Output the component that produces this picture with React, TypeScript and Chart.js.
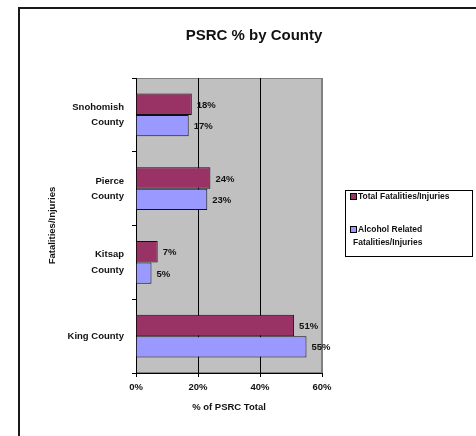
import React, { useEffect, useRef } from "react";
import { Chart, registerables } from "chart.js";

Chart.register(...registerables);

const chartTitle = "PSRC % by County";
const categories: (string | string[])[] = [["Snohomish", "County"], ["Pierce", "County"], ["Kitsap", "County"], "King County"];
const seriesNames = ["Total Fatalities/Injuries", "Alcohol Related Fatalities/Injuries"];
const totalValues = [18, 24, 7, 51];
const alcoholValues = [17, 23, 5, 55];
const xTickValues = [0, 20, 40, 60];
const xAxisTitle = "% of PSRC Total";
const yAxisTitle = "Fatalities/Injuries";

const FONT = '"Liberation Sans", Arial, sans-serif';
const TOTAL_COLOR = "#993366";
const ALCOHOL_COLOR = "#9999FF";

const backgroundPlugin = {
  id: "bgFrame",
  beforeDraw(chart: any) {
    const { ctx, chartArea } = chart;
    ctx.save();
    ctx.fillStyle = "#ffffff";
    ctx.fillRect(0, 0, chart.width, chart.height);
    // outer frame (left and top edges visible)
    ctx.strokeStyle = "#1a1a1a";
    ctx.lineWidth = 2;
    ctx.beginPath();
    ctx.moveTo(19, chart.height + 2);
    ctx.lineTo(19, 8);
    ctx.lineTo(chart.width + 2, 8);
    ctx.stroke();
    // title
    ctx.font = `bold 15px ${FONT}`;
    ctx.fillStyle = "#111";
    ctx.textAlign = "center";
    ctx.textBaseline = "middle";
    ctx.fillText(chartTitle, 254, 36);
    // plot area
    ctx.fillStyle = "#C0C0C0";
    ctx.fillRect(chartArea.left, chartArea.top, chartArea.right - chartArea.left, chartArea.bottom - chartArea.top);
    ctx.strokeStyle = "#808080";
    ctx.lineWidth = 1;
    ctx.strokeRect(chartArea.left + 0.5, chartArea.top + 0.5, chartArea.right - chartArea.left - 1, chartArea.bottom - chartArea.top - 1);
    ctx.restore();
  },
};

const labelsPlugin = {
  id: "valueLabels",
  afterDatasetsDraw(chart: any) {
    const { ctx } = chart;
    ctx.save();
    ctx.font = `bold 9.5px ${FONT}`;
    ctx.fillStyle = "#111";
    ctx.textAlign = "left";
    ctx.textBaseline = "middle";
    chart.data.datasets.forEach((ds: any, di: number) => {
      const meta = chart.getDatasetMeta(di);
      meta.data.forEach((bar: any, i: number) => {
        ctx.fillText(ds.data[i] + "%", bar.x + 5, bar.y + 1);
      });
    });
    ctx.restore();
  },
};

const legendPlugin = {
  id: "customLegend",
  afterDraw(chart: any) {
    const { ctx } = chart;
    ctx.save();
    ctx.strokeStyle = "#000";
    ctx.lineWidth = 1;
    ctx.strokeRect(345.5, 190.5, 127, 66);
    ctx.font = `bold 8.5px ${FONT}`;
    ctx.fillStyle = "#111";
    ctx.textAlign = "left";
    ctx.textBaseline = "middle";
    const markers = [
      { y: 197, color: TOTAL_COLOR, lines: [seriesNames[0]], xs: [358] },
      { y: 230, color: ALCOHOL_COLOR, lines: ["Alcohol Related", "Fatalities/Injuries"], xs: [358, 353] },
    ];
    markers.forEach((m) => {
      ctx.fillStyle = m.color;
      ctx.fillRect(350.5, m.y - 3.5, 6, 6);
      ctx.strokeStyle = "#000";
      ctx.strokeRect(350.5, m.y - 3.5, 6, 6);
      ctx.fillStyle = "#111";
      m.lines.forEach((t, k) => ctx.fillText(t, m.xs[k], m.y + k * 12.5));
    });
    ctx.restore();
  },
};

export default function App() {
  const ref = useRef<HTMLCanvasElement>(null);
  useEffect(() => {
    if (!ref.current) return;
    Chart.defaults.font.family = FONT;
    const chart = new Chart(ref.current, {
      type: "bar",
      data: {
        labels: categories as any,
        datasets: [
          {
            label: seriesNames[0],
            data: totalValues,
            backgroundColor: TOTAL_COLOR,
            borderColor: "#111",
            borderWidth: 1,
            barPercentage: 1,
            categoryPercentage: 0.58,
          },
          {
            label: seriesNames[1],
            data: alcoholValues,
            backgroundColor: ALCOHOL_COLOR,
            borderColor: "#111",
            borderWidth: 1,
            barPercentage: 1,
            categoryPercentage: 0.58,
          },
        ],
      },
      options: {
        indexAxis: "y",
        animation: false,
        responsive: false,
        maintainAspectRatio: false,
        layout: { padding: { left: 0, right: 154, top: 78, bottom: 0 } },
        plugins: {
          legend: { display: false },
          tooltip: { enabled: false },
          title: { display: false },
        },
        scales: {
          x: {
            type: "linear",
            min: 0,
            max: 60,
            afterBuildTicks(scale: any) {
              scale.ticks = xTickValues.map((v) => ({ value: v }));
            },
            afterFit(scale: any) {
              scale.height = 63;
            },
            ticks: {
              color: "#111",
              font: { size: 9.5, weight: "bold", family: FONT },
              padding: 5,
              callback: (v: any) => v + "%",
            },
            grid: {
              color: (c: any) => (c.tick && c.tick.value === 60 ? "#808080" : "#000"),
              tickColor: "#000",
              tickLength: 4,
              drawTicks: true,
            },
            border: { display: true, color: "#000", width: 1 },
            title: {
              display: true,
              text: xAxisTitle,
              color: "#111",
              font: { size: 9.5, weight: "bold", family: FONT },
              padding: { top: 0, bottom: 23 },
            },
          },
          y: {
            type: "category",
            offset: true,
            afterFit(scale: any) {
              scale.width = 136;
            },
            ticks: {
              color: "#111",
              font: { size: 9.5, weight: "bold", family: FONT, lineHeight: 1.6 },
              padding: 8,
            },
            grid: {
              drawOnChartArea: false,
              drawTicks: true,
              tickLength: 4,
              color: "#000",
              offset: true,
            },
            border: { display: true, color: "#000", width: 1 },
            title: {
              display: true,
              text: yAxisTitle,
              color: "#111",
              font: { size: 9.5, weight: "bold", family: FONT },
              padding: { top: 47, bottom: 0 },
            },
          },
        },
      },
      plugins: [backgroundPlugin, labelsPlugin, legendPlugin],
    } as any);
    return () => chart.destroy();
  }, []);
  return (
    <div style={{ position: "absolute", left: 0, top: 0, width: 476, height: 436 }}>
      <canvas ref={ref} width={476} height={436} style={{ display: "block" }} />
    </div>
  );
}
